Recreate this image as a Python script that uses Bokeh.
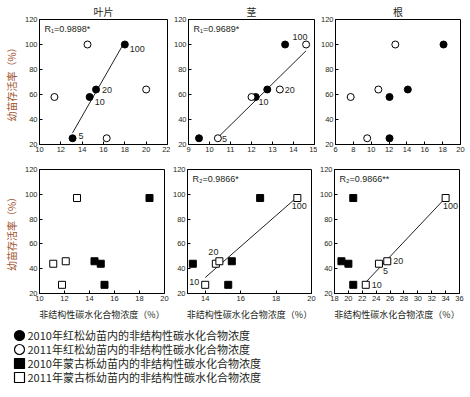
import numpy as np
from bokeh.plotting import figure
from bokeh.layouts import column, row
from bokeh.models import Range1d, Label, FixedTicker
from bokeh.core.properties import value
from bokeh.embed import file_html
from bokeh.resources import INLINE

# ---------------- data ----------------
shade_labels = ["5", "10", "20", "100"]          # light level (%)
survival_hs = [25, 58, 64, 100]                    # 红松 seedling survival (%)
survival_mg = [44, 27, 46, 97]                     # 蒙古栎 seedling survival (%)

hs_leaf_2010 = [13.1, 14.7, 15.3, 18.0]
hs_leaf_2011 = [16.3, 11.4, 20.0, 14.5]
hs_stem_2010 = [9.5, 12.2, 12.75, 13.6]
hs_stem_2011 = [10.4, 12.0, 13.35, 14.6]
hs_root_2010 = [12.05, 12.05, 14.1, 18.1]
hs_root_2011 = [9.55, 7.7, 10.8, 12.7]

mg_leaf_2010 = [14.9, 15.2, 14.4, 18.8]
mg_leaf_2011 = [11.1, 11.8, 12.1, 13.0]
mg_stem_2010 = [13.3, 15.3, 15.5, 17.1]
mg_stem_2011 = [14.6, 14.0, 14.8, 19.2]
mg_root_2010 = [20.0, 20.7, 19.0, 20.7]
mg_root_2011 = [24.4, 22.5, 25.6, 34.0]

panel_titles = ["叶片", "茎", "根"]
x_ticks_top = [[10, 12, 14, 16, 18, 20, 22], [9, 10, 11, 12, 13, 14, 15], [6, 8, 10, 12, 14, 16, 18, 20]]
x_ticks_bottom = [[10, 12, 14, 16, 18, 20], [14, 16, 18, 20], [18, 20, 22, 24, 26, 28, 30, 32, 34, 36]]
x_limits_top = [(10, 22), (9, 15), (6, 20)]
x_limits_bottom = [(10, 20), (13, 20), (18, 36)]
y_ticks = [20, 40, 60, 80, 100, 120]
r_texts = ["R\u2081=0.9898*", "R\u2081=0.9689*", None, None, "R\u2082=0.9866*", "R\u2082=0.9866**"]
y_label = "幼苗存活率（%）"
x_label = "非结构性碳水化合物浓度（%）"
legend_labels = [
    "2010年红松幼苗内的非结构性碳水化合物浓度",
    "2011年红松幼苗内的非结构性碳水化合物浓度",
    "2010年蒙古栎幼苗内的非结构性碳水化合物浓度",
    "2011年蒙古栎幼苗内的非结构性碳水化合物浓度",
]

# ---------------- styling ----------------
CJK = "Noto Sans CJK SC"
LAT = "Liberation Sans"
INK = "#231f20"


def make_panel(xlim, xticks, fw, fh, bl, br, bt, bb, title=None, ylab=False, xlab=False):
    kw = dict(title=title) if title else {}
    p = figure(frame_width=fw, frame_height=fh,
               x_range=Range1d(*xlim), y_range=Range1d(20, 120),
               min_border_left=bl, min_border_right=br, min_border_top=bt, min_border_bottom=bb,
               output_backend="svg", toolbar_location=None, **kw)
    if title:
        p.title.align = "center"
        p.title.text_font = CJK
        p.title.text_font_size = "10px"
        p.title.text_font_style = "normal"
        p.title.text_color = INK
        p.title.standoff = 2
        p.title.offset = 0
    p.grid.visible = False
    p.outline_line_color = "black"
    p.outline_line_alpha = 1
    p.outline_line_width = 1
    p.background_fill_color = "white"
    p.border_fill_color = "white"
    p.xaxis.ticker = FixedTicker(ticks=xticks)
    p.yaxis.ticker = FixedTicker(ticks=y_ticks)
    for ax in (p.xaxis[0], p.yaxis[0]):
        ax.major_label_text_font = LAT
        ax.major_label_text_font_size = "7.5px"
        ax.major_label_text_color = INK
        ax.major_tick_in = 3
        ax.major_tick_out = 0
        ax.minor_tick_line_color = None
        ax.major_label_standoff = 2
        ax.axis_line_color = "black"
        ax.major_tick_line_color = "black"
    if ylab:
        p.yaxis.axis_label = y_label
        p.yaxis.axis_label_text_font = CJK
        p.yaxis.axis_label_text_font_size = "10px"
        p.yaxis.axis_label_text_font_style = "normal"
        p.yaxis.axis_label_text_color = "#a0522d"
        p.yaxis.axis_label_standoff = 3
    if xlab:
        p.xaxis.axis_label = x_label
        p.xaxis.axis_label_text_font = CJK
        p.xaxis.axis_label_text_font_size = "9px"
        p.xaxis.axis_label_text_font_style = "normal"
        p.xaxis.axis_label_text_color = INK
        p.xaxis.axis_label_standoff = 4
    return p


def add_points(p, xs, ys, marker, filled):
    p.scatter(xs, ys, marker=marker, size=7,
              fill_color="black" if filled else "white",
              line_color="black", line_width=1)


def add_fit(p, xs, ys):
    k, b = np.polyfit(xs, ys, 1)
    lx = np.array([min(xs), max(xs)])
    p.line(lx, k * lx + b, line_color=INK, line_width=1)


def add_labels(p, xs, ys, offsets):
    for i, off in offsets.items():
        dx, dy, align = off
        p.text(x=[xs[i]], y=[ys[i]], text=[shade_labels[i]], x_offset=dx, y_offset=dy,
               text_align=align, text_baseline="middle", text_font=value(LAT),
               text_font_size="9px", text_color=INK)


def add_r(p, xlim, txt):
    if txt is None:
        return
    p.add_layout(Label(x=xlim[0], y=120, x_offset=5, y_offset=-9, text=txt,
                       text_font=LAT, text_font_size="9px", text_baseline="middle",
                       text_color=INK))


# ---------------- top row (红松) ----------------
f1 = make_panel(x_limits_top[0], x_ticks_top[0], 128, 125, 30, 3, 16, 15, panel_titles[0], ylab=True)
add_fit(f1, hs_leaf_2010, survival_hs)
add_points(f1, hs_leaf_2011, survival_hs, "circle", False)
add_points(f1, hs_leaf_2010, survival_hs, "circle", True)
add_labels(f1, hs_leaf_2010, survival_hs,
           {0: (6, -2, "left"), 1: (5, 5, "left"), 2: (6, 0, "left"), 3: (5, 4, "left")})
add_r(f1, x_limits_top[0], r_texts[0])

f2 = make_panel(x_limits_top[1], x_ticks_top[1], 126, 125, 15, 3, 16, 15, panel_titles[1])
add_fit(f2, hs_stem_2011, survival_hs)
add_points(f2, hs_stem_2010, survival_hs, "circle", True)
add_points(f2, hs_stem_2011, survival_hs, "circle", False)
add_labels(f2, hs_stem_2011, survival_hs,
           {0: (4, 1, "left"), 1: (7, 5, "left"), 2: (5, 0, "left"), 3: (-6, -8, "center")})
add_r(f2, x_limits_top[1], r_texts[1])

f3 = make_panel(x_limits_top[2], x_ticks_top[2], 125, 125, 16, 7, 16, 15, panel_titles[2])
add_points(f3, hs_root_2010, survival_hs, "circle", True)
add_points(f3, hs_root_2011, survival_hs, "circle", False)

# ---------------- bottom row (蒙古栎) ----------------
f4 = make_panel(x_limits_bottom[0], x_ticks_bottom[0], 125, 124, 30, 5, 10, 30, ylab=True, xlab=True)
add_points(f4, mg_leaf_2010, survival_mg, "square", True)
add_points(f4, mg_leaf_2011, survival_mg, "square", False)

f5 = make_panel(x_limits_bottom[1], x_ticks_bottom[1], 124, 124, 16, 5, 10, 30, xlab=True)
add_fit(f5, mg_stem_2011, survival_mg)
add_points(f5, mg_stem_2010, survival_mg, "square", True)
add_points(f5, mg_stem_2011, survival_mg, "square", False)
add_labels(f5, mg_stem_2011, survival_mg,
           {1: (-6, -3, "right"), 2: (-1, -9, "right"), 3: (2, 8, "center")})
add_r(f5, x_limits_bottom[1], r_texts[4])

f6 = make_panel(x_limits_bottom[2], x_ticks_bottom[2], 125, 124, 16, 8, 10, 30, xlab=True)
add_fit(f6, mg_root_2011, survival_mg)
add_points(f6, mg_root_2010, survival_mg, "square", True)
add_points(f6, mg_root_2011, survival_mg, "square", False)
add_labels(f6, mg_root_2011, survival_mg,
           {0: (4, 7, "left"), 1: (6, 0, "left"), 2: (6, 0, "left"), 3: (5, 8, "center")})
add_r(f6, x_limits_bottom[2], r_texts[5])

# ---------------- legend ----------------
lg = figure(width=454, height=61, x_range=Range1d(0, 454), y_range=Range1d(3.5, -0.857),
            x_axis_location=None, y_axis_location=None, output_backend="svg",
            toolbar_location=None, min_border=0)
lg.grid.visible = False
lg.outline_line_color = None
lg.background_fill_color = "white"
lg.border_fill_color = "white"
rows_idx = np.arange(len(legend_labels))
markers = ["circle", "circle", "square", "square"]
fills = ["black", "white", "black", "white"]
lg.scatter(x=[19] * 4, y=rows_idx, marker=markers, size=10, fill_color=fills,
           line_color="black", line_width=1.2)
lg.text(x=[27] * 4, y=rows_idx, text=legend_labels, text_font=value(CJK),
        text_font_size="11px", text_baseline="middle", text_align="left", text_color=INK)

layout = column(row(f1, f2, f3), row(f4, f5, f6), lg)
open("out.html", "w").write(file_html(layout, INLINE))
